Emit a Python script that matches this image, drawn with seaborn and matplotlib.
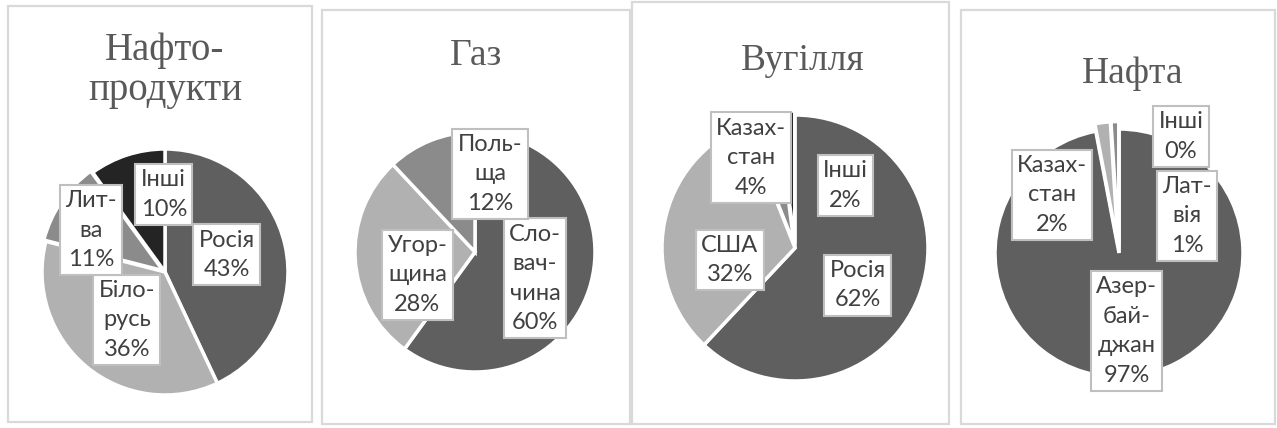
import matplotlib
matplotlib.use("Agg")
import matplotlib.pyplot as plt
from matplotlib.patches import Rectangle
import seaborn as sns

# ---------------- data ----------------
titles = ["Нафто-\nпродукти", "Газ", "Вугілля", "Нафта"]
names_products = ["Росія", "Біло-\nрусь", "Лит-\nва", "Інші"]
values_products = [43, 36, 11, 10]
names_gas = ["Сло-\nвач-\nчина", "Угор-\nщина", "Поль-\nща"]
values_gas = [60, 28, 12]
names_coal = ["Росія", "США", "Казах-\nстан", "Інші"]
values_coal = [62, 32, 4, 2]
names_oil = ["Азер-\nбай-\nджан", "Казах-\nстан", "Лат-\nвія", "Інші"]
values_oil = [97, 2, 1, 0]

series = [
    (names_products, values_products),
    (names_gas, values_gas),
    (names_coal, values_coal),
    (names_oil, values_oil),
]

# ---------------- layout (pixels) ----------------
W, H = 1277, 428
panel_boxes = [(8, 6, 312, 422), (322, 10, 630, 424), (632, 2, 949, 424), (961, 10, 1275, 424)]
pie_geom = [(165, 272, 123), (475, 252, 120), (795, 248, 133), (1119, 253, 124)]
title_pos = [[(165, 60), (165, 100)], [(476, 65)], [(803, 70)], [(1133, 83)]]
title_size = [28, 27, 27, 27]
explodes = [[0, 0, 0.02, 0], [0, 0, 0], [0, 0, 0.03, 0.03], [0, 0.06, 0.06, 0]]
label_pos = [
    [(0.50, 0.14), (-0.31, -0.39), (-0.60, 0.34), (-0.01, 0.63)],
    [(0.50, -0.22), (-0.48, -0.19), (0.125, 0.65)],
    [(0.47, -0.28), (-0.49, -0.09), (-0.33, 0.68), (0.38, 0.47)],
    [(0.06, -0.63), (-0.54, 0.47), (0.55, 0.30), (0.50, 0.94)],
]

sns.set_theme(style="white")
plt.rcParams["font.family"] = ["Lato", "DejaVu Sans"]
greys = sns.color_palette(["#5f5f5f", "#b1b1b1", "#8b8b8b", "#242424"])

fig = plt.figure(figsize=(W / 100, H / 100), dpi=100)
fig.patch.set_facecolor("white")

for i, (names, vals) in enumerate(series):
    x0, y0, x1, y1 = panel_boxes[i]
    fig.patches.append(Rectangle((x0 / W, 1 - y1 / H), (x1 - x0) / W, (y1 - y0) / H,
                                 transform=fig.transFigure, fill=False,
                                 edgecolor="#d9d9d9", linewidth=1.6))
    for line, (tx, ty) in zip(titles[i].split("\n"), title_pos[i]):
        fig.text(tx / W, 1 - ty / H, line, ha="center", va="baseline",
                 fontsize=title_size[i], color="#595959",
                 family=["Liberation Serif", "DejaVu Serif"])

    cx, cy, r = pie_geom[i]
    k = 1.3
    ax = fig.add_axes([(cx - r * k) / W, 1 - (cy + r * k) / H, 2 * r * k / W, 2 * r * k / H])
    ax.pie(vals, colors=greys[:len(vals)], startangle=90, counterclock=False,
           explode=explodes[i], radius=1,
           wedgeprops=dict(edgecolor="white", linewidth=2.5))
    ax.set_xlim(-k, k)
    ax.set_ylim(-k, k)
    ax.set_aspect("equal")
    ax.axis("off")
    for (dx, dy), nm, v in zip(label_pos[i], names, vals):
        ax.text(dx, dy, f"{nm}\n{v}%", ha="center", va="center", fontsize=17,
                color="#404040", linespacing=1.5,
                bbox=dict(boxstyle="square,pad=0.22", facecolor="white",
                          edgecolor="#bfbfbf", linewidth=1.5))

fig.savefig("out.png", dpi=100, facecolor="white")
